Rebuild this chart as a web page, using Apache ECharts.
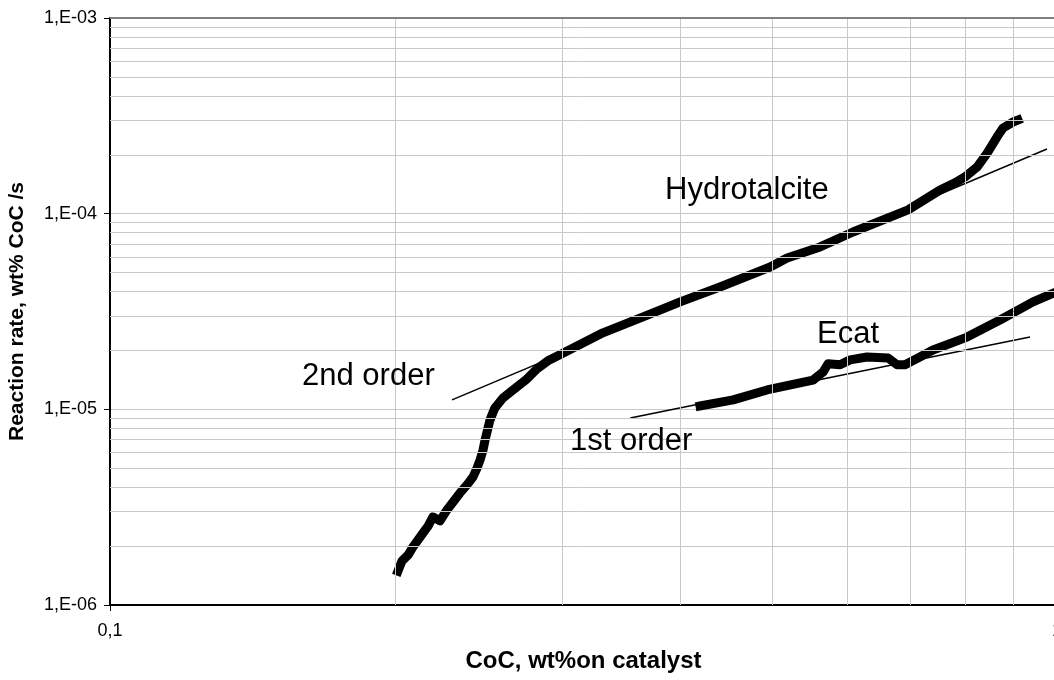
<!DOCTYPE html>
<html>
<head>
<meta charset="utf-8">
<script src="https://cdn.jsdelivr.net/npm/echarts@6/dist/echarts.min.js"></script>
<style>
  html, body { margin: 0; padding: 0; background: #fff; }
  #chart { width: 1054px; height: 680px; }
</style>
</head>
<body>
<div id="chart"></div>
<script>
// Hydrotalcite curve (CoC wt%, rate wt% CoC/s)
const hydroX = [0.2014, 0.2034, 0.2064, 0.2089, 0.2115, 0.2140, 0.2167, 0.2193, 0.2231, 0.2269,
  0.2303, 0.2342, 0.2382, 0.2417, 0.2441, 0.2459, 0.2477, 0.2489, 0.2507, 0.2519,
  0.2549, 0.2600, 0.2664, 0.2756, 0.2824, 0.2900, 0.2986, 0.3315, 0.3745, 0.4000,
  0.4406, 0.4979, 0.5188, 0.5621, 0.6089, 0.6962, 0.7522, 0.7801, 0.7994, 0.8234,
  0.8438, 0.8645, 0.8770, 0.8985, 0.9095];
const hydroY = [1.49e-6, 1.68e-6, 1.80e-6, 1.98e-6, 2.15e-6, 2.33e-6, 2.53e-6, 2.82e-6, 2.69e-6, 3.06e-6,
  3.36e-6, 3.74e-6, 4.11e-6, 4.51e-6, 5.01e-6, 5.51e-6, 6.20e-6, 6.97e-6, 8.03e-6, 8.82e-6,
  1.016e-5, 1.143e-5, 1.256e-5, 1.43e-5, 1.61e-5, 1.77e-5, 1.90e-5, 2.46e-5, 3.11e-5, 3.54e-5,
  4.22e-5, 5.34e-5, 5.93e-5, 6.76e-5, 8.06e-5, 1.045e-4, 1.32e-4, 1.436e-4, 1.54e-4, 1.73e-4,
  2.04e-4, 2.47e-4, 2.74e-4, 2.94e-4, 3.01e-4];

// Ecat curve
const ecatX = [0.4198, 0.4550, 0.4941, 0.5353, 0.5525, 0.5662, 0.5731, 0.5901, 0.6046, 0.6301,
  0.6632, 0.6778, 0.6910, 0.7165, 0.7397, 0.8035, 0.8706, 0.9434, 1.0];
const ecatY = [1.04e-5, 1.117e-5, 1.256e-5, 1.364e-5, 1.41e-5, 1.55e-5, 1.71e-5, 1.69e-5, 1.79e-5, 1.85e-5,
  1.83e-5, 1.69e-5, 1.69e-5, 1.85e-5, 2.01e-5, 2.34e-5, 2.86e-5, 3.54e-5, 4.0e-5];

// fitted order lines
const secondOrderX = [0.2297, 0.9759];
const secondOrderY = [1.117e-5, 2.14e-4];
const firstOrderX = [0.3543, 0.9365];
const firstOrderY = [9.03e-6, 2.34e-5];

// axis range + minor grid values
const xRange = [0.1, 1];
const yRange = [1e-6, 1e-3];
const xMinorTicks = [0.2, 0.3, 0.4, 0.5, 0.6, 0.7, 0.8, 0.9];
const yMinorTicks = [];
[1e-6, 1e-5, 1e-4].forEach(d => {
  for (let k = 2; k <= 9; k++) yMinorTicks.push(+(d * k).toPrecision(3));
});

const pairs = (xs, ys) => xs.map((x, i) => [x, ys[i]]);

const chart = echarts.init(document.getElementById('chart'));
const gridColor = '#c8c8c8';
const font = 'Arial, "Liberation Sans", sans-serif';

// minor grid lines as segments between explicit data coords
const minorLines = xMinorTicks.map(v => [{ coord: [v, yRange[0]] }, { coord: [v, yRange[1]] }])
  .concat(yMinorTicks.map(v => [{ coord: [xRange[0], v] }, { coord: [xRange[1], v] }]));
minorLines.push([
  { coord: [xRange[0], yRange[1]], lineStyle: { color: '#808080', width: 2 } },
  { coord: [xRange[1], yRange[1]] }
]);

const option = {
  animation: false,
  grid: { left: 110, top: 18, width: 947, height: 587, containLabel: false, outerBoundsMode: 'none' },
  xAxis: {
    type: 'log',
    logBase: 10,
    min: xRange[0],
    max: xRange[1],
    name: 'CoC, wt%on catalyst',
    nameLocation: 'middle',
    nameGap: 44,
    nameTextStyle: { fontFamily: font, fontWeight: 'bold', fontSize: 24, color: '#000' },
    axisLine: { lineStyle: { color: '#000', width: 2 } },
    axisTick: { show: true, length: 6, lineStyle: { color: '#000' } },
    axisLabel: {
      fontFamily: font, fontSize: 18, color: '#000', margin: 17,
      formatter: v => String(+v.toPrecision(3)).replace('.', ',')
    },
    splitLine: { show: true, lineStyle: { color: gridColor, width: 1 } }
  },
  yAxis: {
    type: 'log',
    logBase: 10,
    min: yRange[0],
    max: yRange[1],
    name: 'Reaction rate, wt% CoC /s',
    nameLocation: 'middle',
    nameGap: 82,
    nameTextStyle: { fontFamily: font, fontWeight: 'bold', fontSize: 21, color: '#000' },
    axisLine: { lineStyle: { color: '#000', width: 2 } },
    axisTick: { show: true, length: 6, lineStyle: { color: '#000' } },
    axisLabel: {
      fontFamily: font, fontSize: 18, color: '#000', margin: 13,
      formatter: v => {
        const e = Math.round(Math.log10(v));
        return '1,E' + (e < 0 ? '-' : '+') + String(Math.abs(e)).padStart(2, '0');
      }
    },
    splitLine: { show: true, lineStyle: { color: gridColor, width: 1 } }
  },
  series: [
    {
      name: 'grid',
      type: 'line',
      data: [],
      silent: true,
      z: 1,
      markLine: {
        silent: true,
        symbol: 'none',
        label: { show: false },
        animation: false,
        lineStyle: { color: gridColor, width: 1, type: 'solid' },
        data: minorLines
      }
    },
    {
      name: 'Hydrotalcite',
      type: 'line',
      data: pairs(hydroX, hydroY),
      showSymbol: false,
      lineStyle: { color: '#000', width: 9, join: 'round', cap: 'square' },
      z: 3
    },
    {
      name: 'Ecat',
      type: 'line',
      data: pairs(ecatX, ecatY),
      showSymbol: false,
      lineStyle: { color: '#000', width: 9, join: 'round', cap: 'square' },
      z: 3
    },
    {
      name: '2nd order',
      type: 'line',
      data: pairs(secondOrderX, secondOrderY),
      showSymbol: false,
      lineStyle: { color: '#000', width: 1.5 },
      z: 4
    },
    {
      name: '1st order',
      type: 'line',
      data: pairs(firstOrderX, firstOrderY),
      showSymbol: false,
      lineStyle: { color: '#000', width: 1.5 },
      z: 4
    }
  ],
  graphic: [
    { type: 'text', z: 100, left: 665, top: 175, style: { text: 'Hydrotalcite', font: '31px ' + font, fill: '#000' } },
    { type: 'text', z: 100, left: 302, top: 361, style: { text: '2nd order', font: '31px ' + font, fill: '#000' } },
    { type: 'text', z: 100, left: 817, top: 319, style: { text: 'Ecat', font: '31px ' + font, fill: '#000' } },
    { type: 'text', z: 100, left: 570, top: 426, style: { text: '1st order', font: '31px ' + font, fill: '#000' } }
  ]
};

chart.setOption(option);
window.addEventListener('resize', () => chart.resize());
</script>
</body>
</html>
